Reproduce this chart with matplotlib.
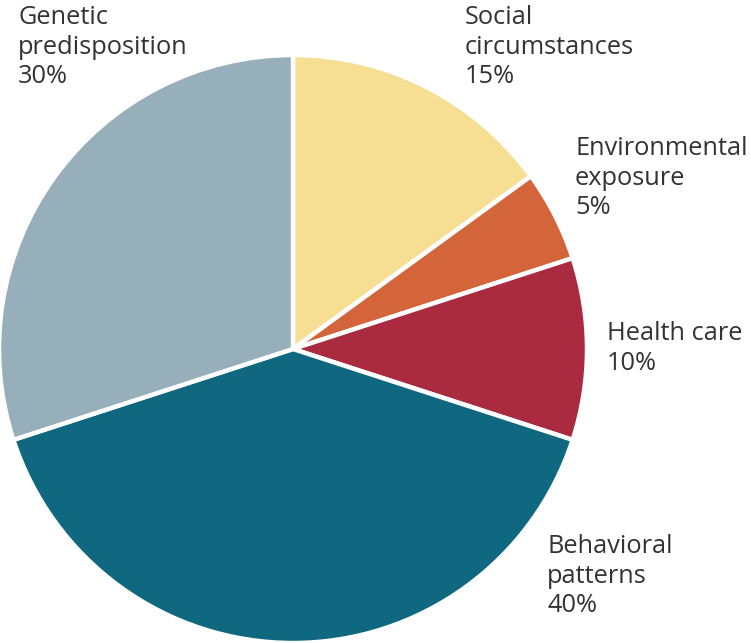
import matplotlib.pyplot as plt

labels = ["Social\ncircumstances", "Environmental\nexposure", "Health care",
          "Behavioral\npatterns", "Genetic\npredisposition"]
shares = [15, 5, 10, 40, 30]
colors = ["#F6DE93", "#D4643A", "#AA2B40", "#0F6880", "#97AEBB"]
# label anchor (left, top) in pixel coordinates
label_pos = [(465, 5), (575, 136), (607, 321), (547, 534), (18, 5)]

W, H = 751, 643
fig = plt.figure(figsize=(W / 100, H / 100), dpi=100)
ax = fig.add_axes([0, 0, 1, 1])

cx, cy, r = 293, 349, 294
ax.pie(shares, colors=colors, startangle=90, counterclock=False,
       center=(cx, H - cy), radius=r, frame=True,
       wedgeprops=dict(edgecolor="white", linewidth=3.2))

ax.set_xlim(0, W)
ax.set_ylim(0, H)
ax.set_aspect("auto")
ax.axis("off")

for lab, val, (x, y) in zip(labels, shares, label_pos):
    ax.text(x, H - y, f"{lab}\n{val}%", ha="left", va="top",
            fontsize=18.3, family="Open Sans", color="#333333",
            linespacing=1.24)

fig.savefig("out.png", dpi=100)
